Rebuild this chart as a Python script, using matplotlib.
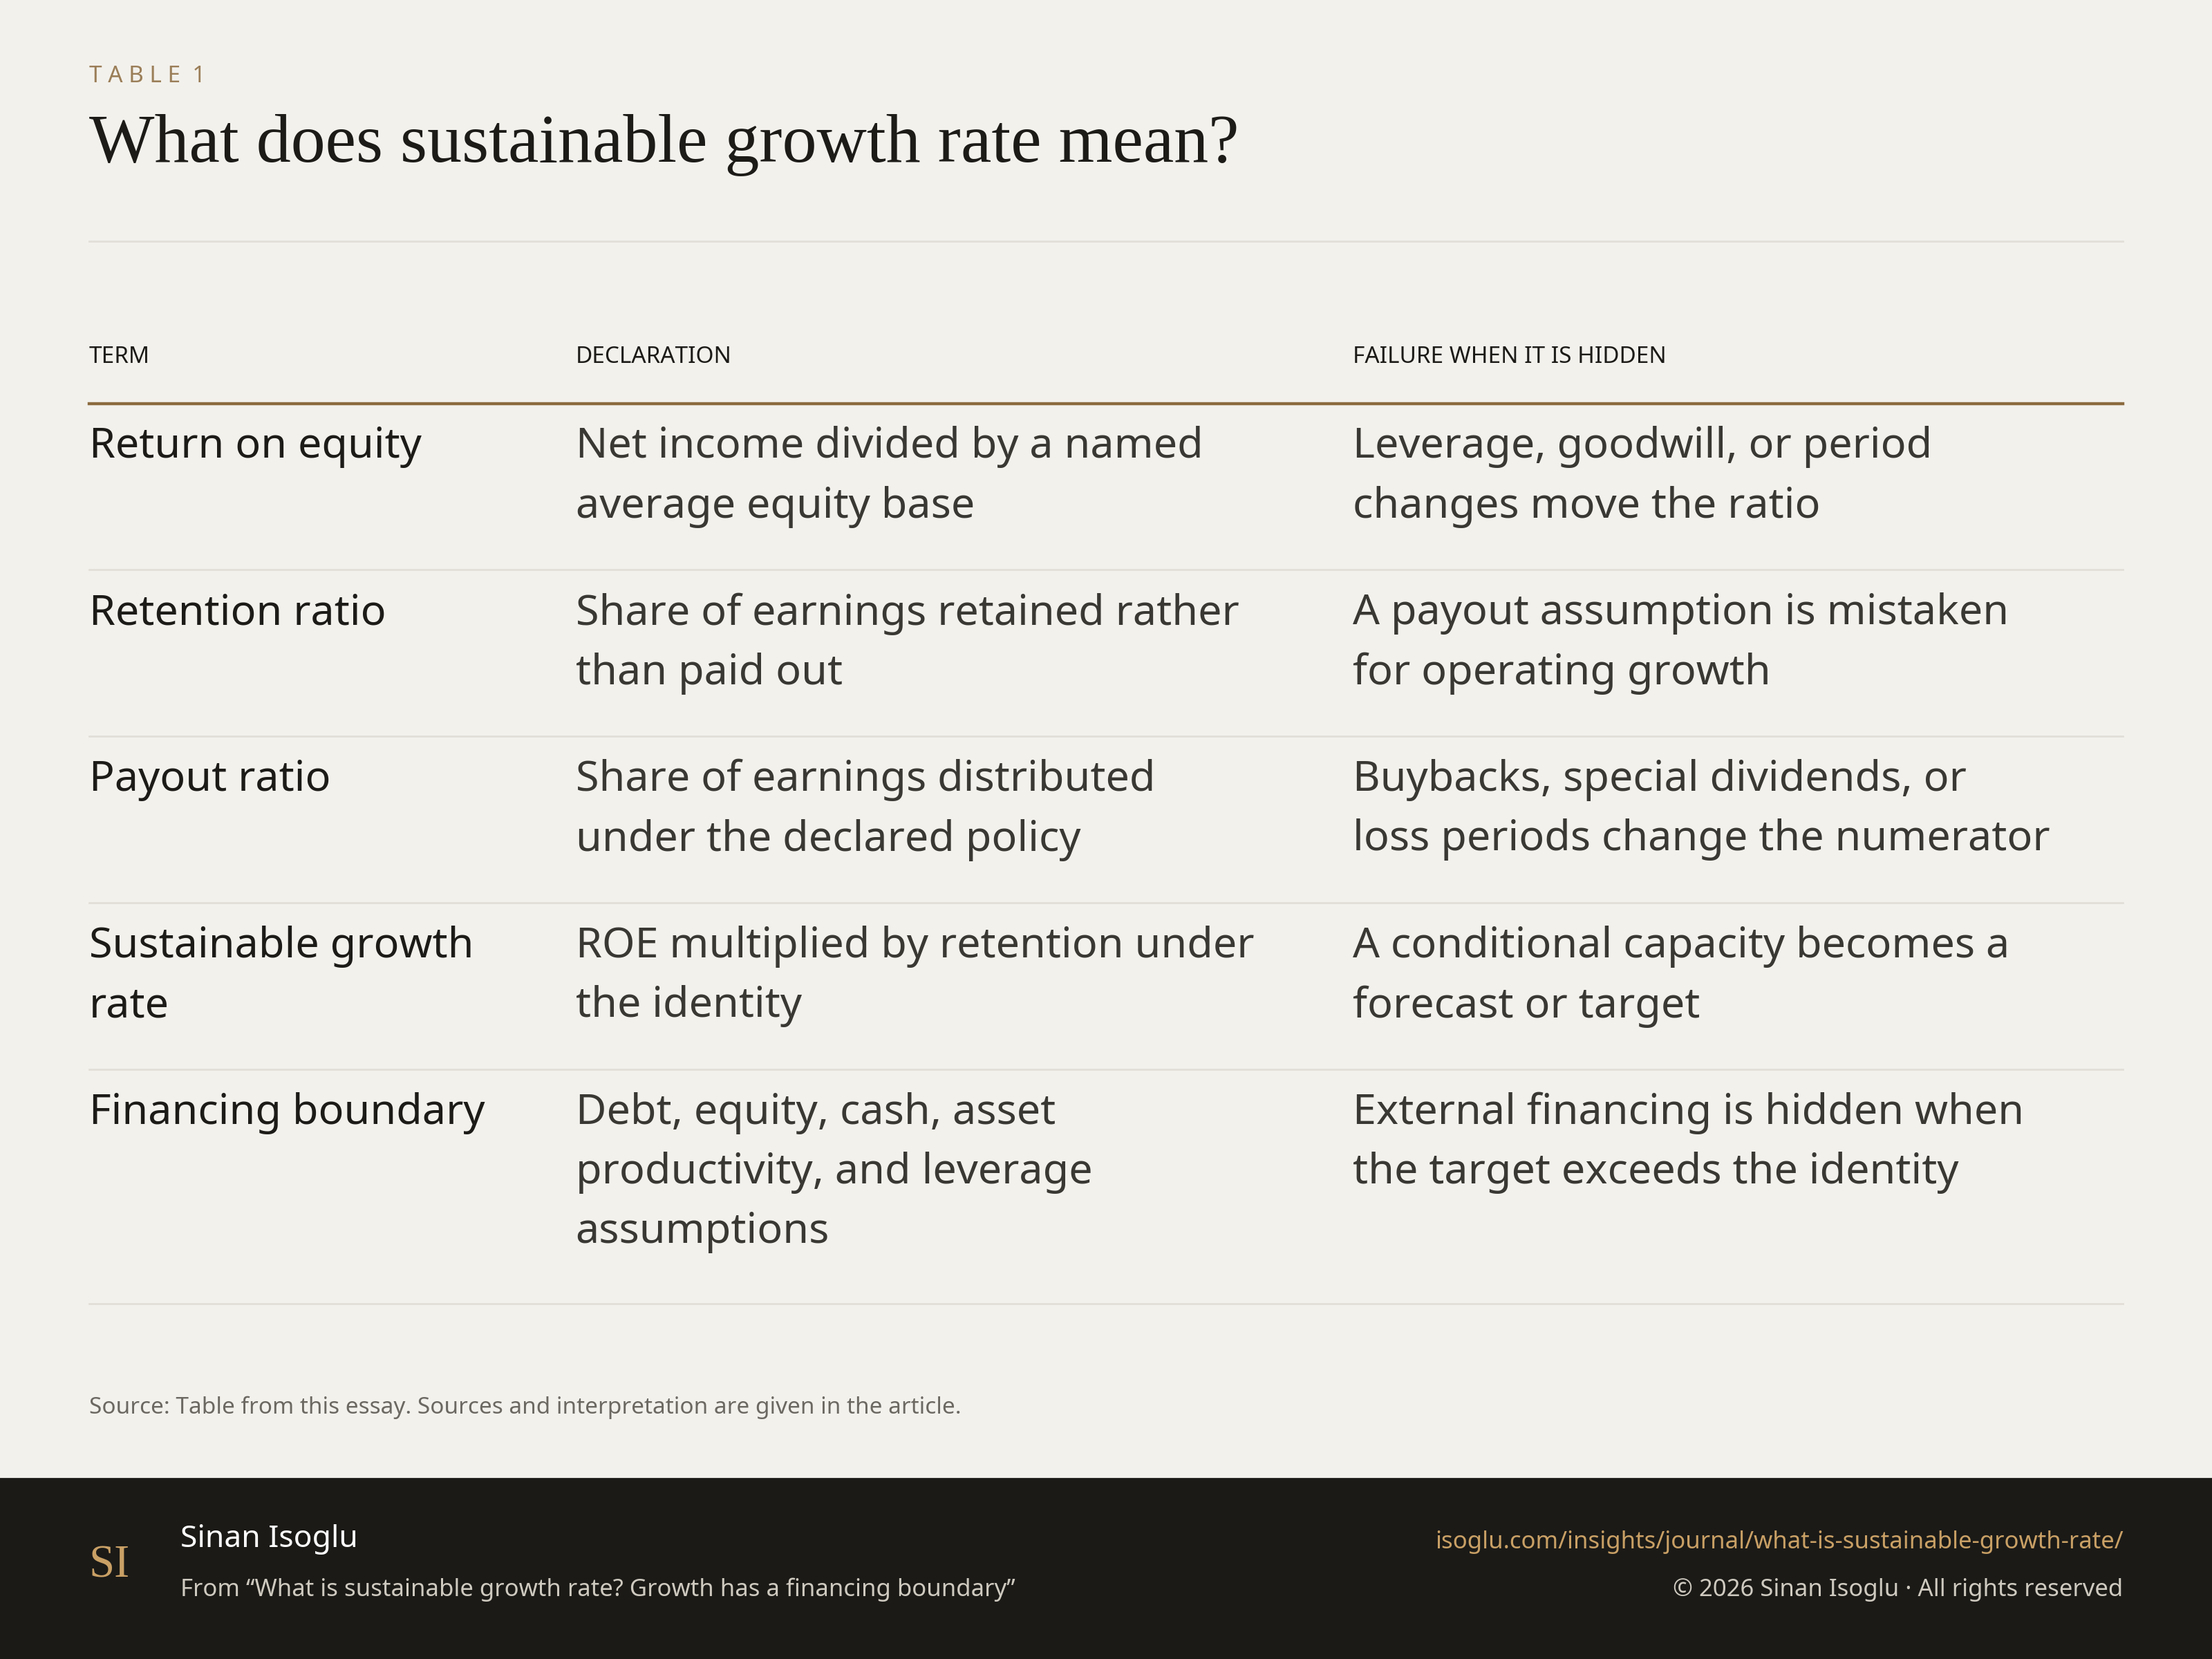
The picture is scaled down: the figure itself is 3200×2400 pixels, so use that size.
import matplotlib
matplotlib.use("Agg")
from matplotlib import pyplot as plt
from matplotlib.patches import Rectangle

# table content
headers = ["TERM", "DECLARATION", "FAILURE WHEN IT IS HIDDEN"]
terms = ["Return on equity", "Retention ratio", "Payout ratio",
         "Sustainable growth\nrate", "Financing boundary"]
declarations = ["Net income divided by a named\naverage equity base",
                "Share of earnings retained rather\nthan paid out",
                "Share of earnings distributed\nunder the declared policy",
                "ROE multiplied by retention under\nthe identity",
                "Debt, equity, cash, asset\nproductivity, and leverage\nassumptions"]
failures = ["Leverage, goodwill, or period\nchanges move the ratio",
            "A payout assumption is mistaken\nfor operating growth",
            "Buybacks, special dividends, or\nloss periods change the numerator",
            "A conditional capacity becomes a\nforecast or target",
            "External financing is hidden when\nthe target exceeds the identity"]
row_bottoms = [404, 522, 640, 758, 924]

W, H = 1568.0, 1176.0
BG = "#f3f1ec"
GOLD = "#8b6a3e"
INK = "#1c1b18"
BODY = "#3a3833"
SANS = ["Noto Sans", "DejaVu Sans"]
SERIF = ["Liberation Serif", "DejaVu Serif"]

fig = plt.figure(figsize=(16, 12), dpi=200)
fig.patch.set_facecolor(BG)
ax = fig.add_axes([0, 0, 1, 1])
ax.set_xlim(0, W)
ax.set_ylim(H, 0)
ax.axis("off")

def txt(x, y, s, **kw):
    ax.text(x, y, s, **kw)

txt(63, 54, "TABLE 1", fontsize=12, color=GOLD, family=SANS, va="center",
    fontweight="bold", alpha=0.85)
ax.texts[-1].set_text("T A B L E  1")
txt(63, 103, "What does sustainable growth rate mean?", fontsize=36,
    color=INK, family=SERIF, va="center")
ax.plot([63, 1505], [171, 171], color="#e2dfd8", lw=1)

cols = [63, 408, 959]
for x, h in zip(cols, headers):
    txt(x, 253, h, fontsize=12, color=INK, family=SANS, va="center",
        fontweight="bold")
ax.plot([63, 1505], [286, 286], color=GOLD, lw=1.6)

top = 286
for i, bot in enumerate(row_bottoms):
    for x, s, c in zip(cols, [terms[i], declarations[i], failures[i]],
                       [INK, BODY, BODY]):
        txt(x, top + 16, s, fontsize=22, color=c, family=SANS, va="top",
            linespacing=1.55)
    ax.plot([63, 1505], [bot, bot], color="#e2dfd8", lw=1)
    top = bot

txt(63, 998, "Source: Table from this essay. Sources and interpretation are given in the article.",
    fontsize=12, color="#6b6862", family=SANS, va="center")

ax.add_patch(Rectangle((0, 1048), W, H - 1048, color="#1b1a17", zorder=0))
txt(63, 1110, "SI", fontsize=24, color="#c9a065", family=SERIF, va="center")
txt(128, 1091, "Sinan Isoglu", fontsize=16, color="white", family=SANS,
    va="center", fontweight="bold")
txt(128, 1127, "From \u201cWhat is sustainable growth rate? Growth has a financing boundary\u201d",
    fontsize=12.5, color="#cfcac0", family=SANS, va="center")
txt(1505, 1093, "isoglu.com/insights/journal/what-is-sustainable-growth-rate/",
    fontsize=12.5, color="#c9a065", family=SANS, va="center", ha="right")
txt(1505, 1127, "\u00a9 2026 Sinan Isoglu \u00b7 All rights reserved",
    fontsize=12.5, color="#cfcac0", family=SANS, va="center", ha="right")

fig.savefig("out.png", dpi=200, facecolor=BG)
